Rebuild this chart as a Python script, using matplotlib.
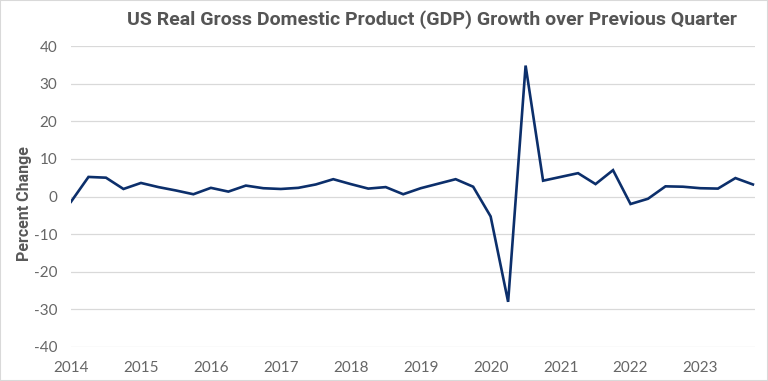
import matplotlib
matplotlib.use("Agg")
import matplotlib.pyplot as plt
from matplotlib.patches import Rectangle

plt.rcParams["axes.unicode_minus"] = False

years = list(range(2014, 2024))
quarters = ["Q1", "Q2", "Q3", "Q4"]
gdp_growth = [
    -1.4, 5.2, 5.0, 2.0,
    3.6, 2.5, 1.6, 0.6,
    2.3, 1.3, 2.9, 2.2,
    2.0, 2.3, 3.2, 4.6,
    3.3, 2.1, 2.5, 0.6,
    2.2, 3.4, 4.6, 2.6,
    -5.3, -28.0, 34.8, 4.2,
    5.2, 6.2, 3.3, 7.0,
    -2.0, -0.6, 2.7, 2.6,
    2.2, 2.1, 4.9, 3.2,
]
yticks = [-40, -30, -20, -10, 0, 10, 20, 30, 40]
title = "US Real Gross Domestic Product (GDP) Growth over Previous Quarter"
ylabel = "Percent Change"

x = [y + q / 4 for y in years for q in range(4)]

fig = plt.figure(figsize=(7.68, 3.81), dpi=100)
ax = fig.add_axes([71 / 768, 1 - 347 / 381, (755 - 71) / 768, (347 - 46) / 381])

ax.plot(x, gdp_growth, color="#0c2f6b", lw=1.9, solid_joinstyle="miter")
ax.set_ylim(-40, 40)
ax.set_xlim(2014, 2023.75 + 0.03)
ax.set_yticks(yticks)
ax.set_xticks(years)
ax.set_xticklabels([str(y) for y in years])
ax.grid(axis="y", color="#d9d9d9", lw=0.9)
ax.set_axisbelow(True)
for s in ax.spines.values():
    s.set_visible(False)
ax.tick_params(length=0, labelsize=11, labelcolor="#666666")
for lab in ax.get_xticklabels() + ax.get_yticklabels():
    lab.set_family("Lato")
ax.tick_params(axis="y", pad=10)
ax.tick_params(axis="x", pad=10)

fig.text(25 / 768, 1 - 204 / 381, ylabel, ha="center", va="center",
         rotation=90, family="Roboto", fontweight="bold", fontsize=11.5,
         color="#595959")
fig.text(432 / 768, 1 - 20 / 381, title, ha="center", va="center",
         family="Roboto", fontweight="bold", fontsize=14, color="#555555")

fig.patches.append(Rectangle((0, 0), 1, 1, transform=fig.transFigure,
                             fill=False, edgecolor="#d9d9d9", lw=1.5))
fig.savefig("out.png", dpi=100)
